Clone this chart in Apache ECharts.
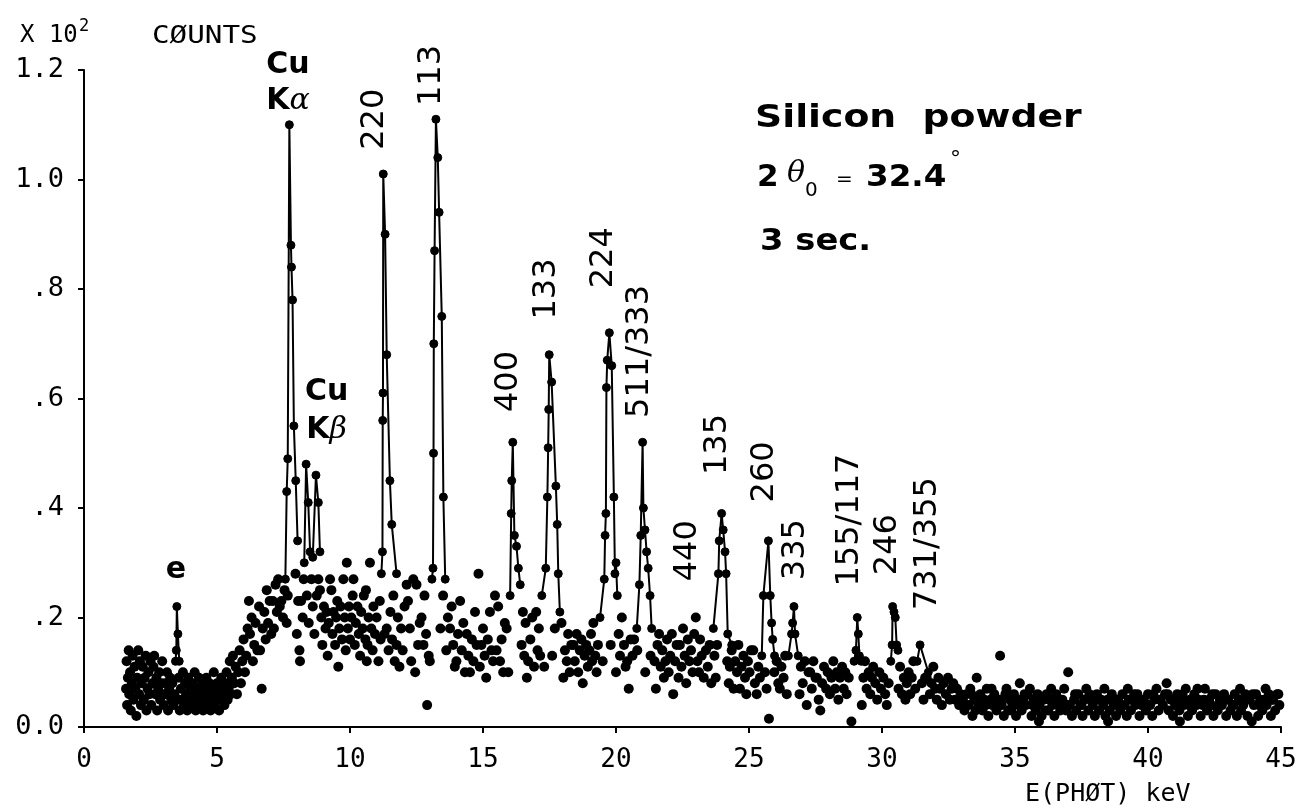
<!DOCTYPE html>
<html>
<head>
<meta charset="utf-8">
<script src="https://cdn.jsdelivr.net/npm/echarts@6/dist/echarts.min.js"></script>
<style>
html, body { margin: 0; background: #fff; }
#main { width: 1311px; height: 809px; }
</style>
</head>
<body>
<div id="main"></div>
<script>
// axis ticks
var xTicks = [0, 5, 10, 15, 20, 25, 30, 35, 40, 45];
var yTickLabels = ['0.0', '.2', '.4', '.6', '.8', '1.0', '1.2'];

// peaks (E keV, counts x100), joined by lines
var peakE = [[3.44, 0.12], [3.47, 0.14], [3.49, 0.22], [3.53, 0.17], [3.58, 0.12]];
var peakCuKa = [[7.57, 0.27], [7.62, 0.43], [7.66, 0.49], [7.72, 1.10], [7.78, 0.88], [7.80, 0.84], [7.84, 0.78], [7.89, 0.55], [7.96, 0.45], [8.03, 0.34]];
var peakCuKb = [[8.28, 0.30], [8.35, 0.48], [8.43, 0.41], [8.50, 0.32], [8.60, 0.31], [8.72, 0.46], [8.81, 0.41], [8.87, 0.32]];
var peak220 = [[11.18, 0.28], [11.22, 0.32], [11.23, 0.56], [11.24, 0.61], [11.25, 1.01], [11.32, 0.90], [11.38, 0.68], [11.50, 0.45], [11.57, 0.37], [11.75, 0.28]];
var peak113 = [[13.08, 0.27], [13.12, 0.29], [13.14, 0.50], [13.15, 0.70], [13.18, 0.87], [13.23, 1.11], [13.30, 1.04], [13.35, 0.94], [13.45, 0.75], [13.51, 0.42], [13.58, 0.27]];
var peak400 = [[16.02, 0.24], [16.06, 0.39], [16.08, 0.45], [16.12, 0.52], [16.18, 0.35], [16.26, 0.33], [16.33, 0.29], [16.40, 0.26]];
var peak133 = [[17.21, 0.24], [17.36, 0.29], [17.42, 0.42], [17.45, 0.51], [17.47, 0.58], [17.49, 0.68], [17.58, 0.63], [17.74, 0.44], [17.79, 0.37], [17.83, 0.28], [17.89, 0.21]];
var peak224 = [[19.40, 0.20], [19.56, 0.27], [19.59, 0.35], [19.62, 0.39], [19.64, 0.62], [19.67, 0.67], [19.75, 0.72], [19.84, 0.66], [19.92, 0.42], [19.96, 0.28], [20.00, 0.30], [20.05, 0.24]];
var peak511 = [[20.78, 0.18], [20.88, 0.26], [20.93, 0.35], [21.00, 0.52], [21.03, 0.40], [21.09, 0.36], [21.15, 0.32], [21.21, 0.29], [21.28, 0.24], [21.34, 0.18]];
var peak135 = [[23.66, 0.18], [23.85, 0.28], [23.88, 0.34], [23.97, 0.39], [24.03, 0.36], [24.10, 0.32], [24.14, 0.28], [24.20, 0.17], [24.35, 0.15]];
var peak260 = [[25.48, 0.13], [25.54, 0.24], [25.73, 0.34], [25.80, 0.24], [25.85, 0.19], [25.89, 0.16], [25.96, 0.13]];
var peak335 = [[26.48, 0.13], [26.60, 0.17], [26.64, 0.19], [26.69, 0.22], [26.73, 0.17], [26.85, 0.13]];
var peak155 = [[28.95, 0.12], [29.02, 0.14], [29.07, 0.20], [29.11, 0.17], [29.15, 0.13], [29.22, 0.12]];
var peak246 = [[30.33, 0.12], [30.38, 0.15], [30.40, 0.22], [30.45, 0.21], [30.50, 0.20], [30.55, 0.15], [30.60, 0.14]];
var peak731 = [[31.32, 0.12], [31.43, 0.15], [31.74, 0.10]];

// background counts, loose points
var bgLow = [[1.58, 0.07], [1.60, 0.12], [1.62, 0.04], [1.65, 0.09], [1.68, 0.14], [1.70, 0.06], [1.73, 0.10], [1.76, 0.03], [1.80, 0.08], [1.83, 0.13], [1.86, 0.05], [1.90, 0.11], [1.93, 0.07], [1.97, 0.02], [2.00, 0.09], [2.04, 0.14], [2.07, 0.06], [2.10, 0.12], [2.14, 0.04], [2.17, 0.08], [2.21, 0.11], [2.25, 0.05], [2.28, 0.09], [2.32, 0.13], [2.35, 0.03], [2.39, 0.07], [2.42, 0.10], [2.46, 0.06], [2.50, 0.12], [2.53, 0.04], [2.57, 0.08], [2.61, 0.11], [2.64, 0.13], [2.68, 0.06], [2.72, 0.09], [2.75, 0.03], [2.79, 0.07], [2.83, 0.10], [2.86, 0.05], [2.90, 0.08], [2.94, 0.12], [2.97, 0.06],
  [3.00, 0.04], [3.04, 0.08], [3.08, 0.06], [3.12, 0.10], [3.16, 0.03], [3.20, 0.07], [3.24, 0.09], [3.28, 0.05], [3.32, 0.08], [3.36, 0.04], [3.40, 0.06], [3.52, 0.05], [3.56, 0.09], [3.60, 0.03], [3.64, 0.07], [3.68, 0.05], [3.72, 0.10], [3.76, 0.04], [3.80, 0.08], [3.84, 0.06], [3.88, 0.03], [3.92, 0.09], [3.96, 0.05], [4.00, 0.07], [4.04, 0.04], [4.08, 0.08], [4.12, 0.06], [4.16, 0.10], [4.20, 0.03], [4.24, 0.07], [4.28, 0.05], [4.32, 0.09], [4.36, 0.04], [4.40, 0.06], [4.44, 0.08], [4.48, 0.03], [4.52, 0.07], [4.56, 0.05], [4.60, 0.09], [4.64, 0.04], [4.68, 0.06], [4.72, 0.08], [4.76, 0.03], [4.80, 0.07], [4.84, 0.05], [4.88, 0.10], [4.92, 0.04], [4.96, 0.06], [5.00, 0.08], [5.04, 0.05], [5.08, 0.03], [5.12, 0.07], [5.16, 0.09], [5.20, 0.05], [5.24, 0.06], [5.28, 0.04], [5.32, 0.08], [5.36, 0.10], [5.40, 0.05], [5.44, 0.07], [5.48, 0.12], [5.52, 0.06], [5.56, 0.09]];
var bgRise = [[5.60, 0.13], [5.65, 0.08], [5.70, 0.11], [5.75, 0.06], [5.80, 0.10], [5.85, 0.14], [5.90, 0.08], [5.95, 0.12], [6.00, 0.16], [6.05, 0.10], [6.10, 0.13], [6.15, 0.18], [6.20, 0.23], [6.24, 0.17], [6.30, 0.20], [6.35, 0.12], [6.40, 0.15], [6.45, 0.19], [6.52, 0.14], [6.58, 0.22], [6.62, 0.14], [6.68, 0.07], [6.72, 0.18], [6.78, 0.21], [6.83, 0.16], [6.87, 0.25], [6.92, 0.19], [6.98, 0.23], [7.04, 0.17], [7.10, 0.23], [7.14, 0.18], [7.20, 0.26], [7.25, 0.21], [7.30, 0.27], [7.36, 0.22], [7.42, 0.23], [7.48, 0.20], [7.54, 0.25]];
var bgHump = [[7.62, 0.19], [7.66, 0.24], [7.95, 0.28], [8.00, 0.17], [8.05, 0.23], [8.10, 0.14], [8.12, 0.12], [8.16, 0.23], [8.22, 0.20], [8.26, 0.27], [8.38, 0.24], [8.45, 0.19], [8.55, 0.27], [8.60, 0.22], [8.66, 0.17], [8.75, 0.24], [8.81, 0.27], [8.87, 0.25], [8.92, 0.20], [8.96, 0.15], [9.02, 0.22], [9.08, 0.18], [9.12, 0.21], [9.16, 0.13], [9.20, 0.19], [9.25, 0.27], [9.30, 0.25], [9.34, 0.17], [9.38, 0.21], [9.44, 0.15], [9.48, 0.20], [9.52, 0.23], [9.56, 0.11], [9.60, 0.18], [9.65, 0.22], [9.70, 0.16], [9.75, 0.27], [9.80, 0.20], [9.84, 0.14], [9.88, 0.30], [9.92, 0.18], [9.96, 0.22], [10.00, 0.16], [10.05, 0.20], [10.10, 0.24], [10.13, 0.27], [10.18, 0.15], [10.22, 0.19], [10.28, 0.22], [10.33, 0.17], [10.38, 0.13], [10.42, 0.21], [10.48, 0.18], [10.52, 0.24], [10.58, 0.16], [10.60, 0.25], [10.63, 0.12], [10.66, 0.15], [10.70, 0.20], [10.75, 0.30], [10.80, 0.18], [10.85, 0.14], [10.88, 0.22], [10.94, 0.17], [11.00, 0.20], [11.07, 0.12], [11.12, 0.23], [11.15, 0.16]];
var bgMid = [[11.30, 0.17], [11.38, 0.18], [11.45, 0.14], [11.52, 0.21], [11.58, 0.16], [11.63, 0.24], [11.68, 0.12], [11.75, 0.15], [11.80, 0.20], [11.86, 0.11], [11.92, 0.18], [11.98, 0.14], [12.05, 0.22], [12.13, 0.26], [12.18, 0.23], [12.25, 0.18], [12.30, 0.12], [12.38, 0.27], [12.45, 0.10], [12.50, 0.26], [12.56, 0.15], [12.62, 0.19], [12.69, 0.20], [12.76, 0.15], [12.80, 0.24], [12.86, 0.17], [12.90, 0.04], [12.96, 0.13], [13.00, 0.12], [13.40, 0.18], [13.50, 0.24], [13.62, 0.14], [13.68, 0.20], [13.76, 0.18], [13.82, 0.22], [13.88, 0.15], [13.94, 0.11], [14.00, 0.12], [14.06, 0.17], [14.14, 0.23], [14.20, 0.14], [14.26, 0.19], [14.32, 0.10], [14.39, 0.17], [14.45, 0.13], [14.51, 0.10], [14.58, 0.16], [14.64, 0.12], [14.70, 0.21], [14.76, 0.15], [14.83, 0.28], [14.88, 0.11], [14.94, 0.15], [15.00, 0.18], [15.06, 0.13], [15.12, 0.09], [15.18, 0.16], [15.26, 0.21], [15.32, 0.14], [15.38, 0.12], [15.45, 0.24], [15.51, 0.14], [15.57, 0.22], [15.64, 0.12], [15.70, 0.16], [15.76, 0.10], [15.82, 0.19], [15.89, 0.18], [15.95, 0.10],
  [16.45, 0.15], [16.50, 0.21], [16.55, 0.13], [16.60, 0.19], [16.65, 0.09], [16.70, 0.12], [16.78, 0.16], [16.85, 0.20], [16.92, 0.11], [17.00, 0.21], [17.05, 0.14], [17.10, 0.18], [17.15, 0.13], [17.30, 0.11], [17.60, 0.13], [17.70, 0.18], [17.95, 0.19], [18.02, 0.09], [18.08, 0.14], [18.15, 0.12], [18.20, 0.17], [18.26, 0.10], [18.32, 0.15], [18.40, 0.15], [18.45, 0.12], [18.52, 0.17], [18.58, 0.10], [18.64, 0.14], [18.70, 0.16], [18.75, 0.08], [18.82, 0.13], [18.88, 0.15], [18.94, 0.11], [19.00, 0.14], [19.06, 0.17], [19.10, 0.12], [19.15, 0.19], [19.22, 0.13], [19.27, 0.10], [19.32, 0.15], [19.50, 0.12], [19.80, 0.15], [20.00, 0.10], [20.10, 0.17], [20.15, 0.13], [20.22, 0.20], [20.30, 0.15], [20.36, 0.11], [20.42, 0.12], [20.48, 0.07], [20.55, 0.16], [20.62, 0.13], [20.68, 0.16], [20.80, 0.14], [21.10, 0.10], [21.30, 0.13], [21.45, 0.12], [21.50, 0.07], [21.56, 0.15], [21.62, 0.17], [21.68, 0.11], [21.74, 0.14], [21.80, 0.09], [21.86, 0.12], [21.92, 0.16], [21.98, 0.10], [22.04, 0.13], [22.10, 0.17], [22.15, 0.06], [22.22, 0.12], [22.28, 0.15], [22.35, 0.09], [22.40, 0.15], [22.46, 0.11], [22.52, 0.18], [22.58, 0.13], [22.64, 0.08], [22.70, 0.16], [22.76, 0.12], [22.82, 0.14], [22.88, 0.10], [22.94, 0.17], [23.00, 0.20], [23.06, 0.12], [23.12, 0.10], [23.16, 0.16], [23.22, 0.13], [23.30, 0.09], [23.38, 0.14], [23.45, 0.11], [23.52, 0.15], [23.58, 0.08]];
var bgTail = [[23.70, 0.13], [23.75, 0.09], [23.80, 0.15], [24.18, 0.12], [24.24, 0.08], [24.28, 0.11], [24.35, 0.14], [24.42, 0.07], [24.48, 0.12], [24.55, 0.10], [24.60, 0.15], [24.66, 0.07], [24.72, 0.11], [24.79, 0.13], [24.85, 0.09], [24.90, 0.06], [24.96, 0.12], [25.02, 0.10], [25.08, 0.14], [25.16, 0.14], [25.22, 0.08], [25.29, 0.06], [25.35, 0.11], [25.41, 0.09], [25.60, 0.10], [25.66, 0.07], [25.75, 0.015], [25.95, 0.10], [26.04, 0.12], [26.10, 0.08], [26.16, 0.07], [26.22, 0.11], [26.30, 0.09], [26.36, 0.13], [26.42, 0.06], [26.90, 0.06], [26.95, 0.11], [27.02, 0.08], [27.10, 0.12], [27.17, 0.04], [27.24, 0.10], [27.30, 0.10], [27.36, 0.07], [27.42, 0.12], [27.50, 0.09], [27.55, 0.09], [27.62, 0.05], [27.68, 0.03], [27.75, 0.08], [27.82, 0.11], [27.90, 0.07], [27.96, 0.10], [28.04, 0.06], [28.10, 0.09], [28.17, 0.12], [28.24, 0.07], [28.30, 0.10], [28.36, 0.05], [28.42, 0.09], [28.50, 0.11], [28.56, 0.07], [28.62, 0.10], [28.67, 0.06], [28.75, 0.09], [28.85, 0.01], [29.24, 0.04], [29.30, 0.09], [29.36, 0.12], [29.42, 0.07], [29.50, 0.10], [29.56, 0.06], [29.62, 0.09], [29.67, 0.11], [29.75, 0.08], [29.82, 0.05], [29.90, 0.10], [29.96, 0.07], [30.05, 0.09], [30.12, 0.06], [30.18, 0.04], [30.25, 0.08], [30.62, 0.07], [30.68, 0.11], [30.75, 0.06], [30.82, 0.09], [30.88, 0.05], [30.93, 0.08], [31.00, 0.10], [31.06, 0.06], [31.12, 0.09], [31.18, 0.12], [31.25, 0.07], [31.50, 0.08], [31.56, 0.05], [31.62, 0.09], [31.68, 0.09], [31.80, 0.06], [31.86, 0.08], [31.93, 0.11], [32.00, 0.07], [32.06, 0.05], [32.12, 0.09], [32.18, 0.07], [32.25, 0.04], [32.32, 0.08], [32.40, 0.06], [32.48, 0.09], [32.55, 0.05], [32.62, 0.07], [32.68, 0.08], [32.75, 0.05], [32.82, 0.07], [32.90, 0.04], [32.96, 0.06]];
var bgHigh = [[33.04, 0.05], [33.10, 0.03], [33.18, 0.06], [33.25, 0.04], [33.32, 0.07], [33.40, 0.02], [33.47, 0.05], [33.56, 0.09], [33.62, 0.04], [33.70, 0.06], [33.78, 0.03], [33.85, 0.05], [33.94, 0.07], [34.00, 0.02], [34.08, 0.05], [34.15, 0.04], [34.22, 0.06], [34.30, 0.03], [34.37, 0.05], [34.44, 0.13], [34.50, 0.04], [34.58, 0.02], [34.64, 0.06], [34.68, 0.07], [34.75, 0.03], [34.82, 0.05], [34.90, 0.04], [34.96, 0.06], [35.04, 0.02], [35.10, 0.05], [35.18, 0.08], [35.25, 0.03], [35.32, 0.05], [35.40, 0.04], [35.48, 0.06], [35.56, 0.07], [35.62, 0.02], [35.70, 0.05], [35.78, 0.03], [35.85, 0.06], [35.90, 0.01], [35.92, 0.04], [36.00, 0.02], [36.08, 0.05], [36.19, 0.06], [36.25, 0.03], [36.32, 0.05], [36.40, 0.04], [36.48, 0.02], [36.55, 0.06], [36.62, 0.04], [36.70, 0.03], [36.78, 0.05], [36.85, 0.07], [36.92, 0.03], [37.00, 0.10], [37.06, 0.04], [37.14, 0.02], [37.22, 0.05], [37.30, 0.03], [37.38, 0.06], [37.46, 0.04], [37.54, 0.02], [37.60, 0.05], [37.68, 0.07], [37.76, 0.03], [37.84, 0.05], [37.92, 0.04], [38.00, 0.02], [38.08, 0.06], [38.16, 0.03], [38.24, 0.05], [38.32, 0.04], [38.40, 0.02], [38.48, 0.05], [38.50, 0.01], [38.56, 0.03], [38.64, 0.06], [38.72, 0.04], [38.80, 0.02], [38.88, 0.05], [38.96, 0.03], [39.04, 0.06], [39.12, 0.04], [39.20, 0.02], [39.28, 0.05], [39.36, 0.03], [39.44, 0.05], [39.52, 0.04], [39.60, 0.06], [39.68, 0.02], [39.76, 0.04], [39.84, 0.05], [39.92, 0.03], [40.00, 0.06], [40.08, 0.04], [40.16, 0.02], [40.24, 0.05], [40.32, 0.07], [40.40, 0.03], [40.48, 0.05], [40.56, 0.04], [40.64, 0.06], [40.70, 0.08], [40.78, 0.03], [40.86, 0.05], [40.94, 0.02], [41.02, 0.04], [41.10, 0.06], [41.18, 0.03], [41.20, 0.01], [41.26, 0.05], [41.34, 0.04], [41.42, 0.07], [41.50, 0.02], [41.58, 0.05], [41.66, 0.03], [41.74, 0.06], [41.82, 0.04], [41.90, 0.05], [41.98, 0.02], [42.06, 0.04], [42.14, 0.07], [42.22, 0.03], [42.30, 0.05], [42.38, 0.04], [42.46, 0.02], [42.54, 0.06], [42.62, 0.03], [42.70, 0.05], [42.78, 0.04], [42.86, 0.06], [42.94, 0.02], [43.02, 0.05], [43.10, 0.03], [43.18, 0.04], [43.26, 0.06], [43.34, 0.02], [43.42, 0.05], [43.50, 0.03], [43.58, 0.04], [43.66, 0.06], [43.74, 0.02], [43.82, 0.05], [43.90, 0.01], [43.98, 0.04], [44.06, 0.06], [44.14, 0.02], [44.22, 0.05], [44.30, 0.03], [44.38, 0.05], [44.46, 0.04], [44.54, 0.06], [44.62, 0.02], [44.70, 0.05], [44.78, 0.03], [44.86, 0.06], [44.94, 0.04]];
var bgHighFill = [[33.14, 0.04], [33.36, 0.06], [33.52, 0.03], [33.74, 0.05], [33.90, 0.04], [34.12, 0.07], [34.34, 0.04], [34.54, 0.05], [34.86, 0.03], [35.14, 0.04], [35.36, 0.06], [35.66, 0.04], [35.96, 0.05], [36.14, 0.03], [36.36, 0.07], [36.66, 0.05], [36.96, 0.04], [37.26, 0.06], [37.50, 0.04], [37.80, 0.06], [38.12, 0.05], [38.36, 0.07], [38.68, 0.05], [38.92, 0.04], [39.24, 0.07], [39.48, 0.06], [39.72, 0.05], [39.96, 0.04], [40.20, 0.06], [40.44, 0.05], [40.74, 0.06], [40.98, 0.05], [41.30, 0.06], [41.54, 0.04], [41.86, 0.07], [42.10, 0.05], [42.42, 0.06], [42.66, 0.04], [42.90, 0.05], [43.22, 0.04], [43.46, 0.07], [43.70, 0.05], [43.94, 0.06], [44.18, 0.04], [44.42, 0.07], [44.66, 0.05], [44.90, 0.06]];

var myChart = echarts.init(document.getElementById('main'));

var plotFont = '"DejaVu Sans Mono", monospace';

function peakSeries(data) {
    return {
        type: 'line',
        data: data,
        symbol: 'circle',
        symbolSize: 8,
        clip: false,
        lineStyle: { color: '#000', width: 2 },
        itemStyle: { color: '#000', borderColor: '#000', borderWidth: 1 },
        z: 3
    };
}

var option = {
    animation: false,
    backgroundColor: '#fff',
    grid: {
        left: 84,
        right: 30,
        top: 70,
        bottom: 82
    },
    xAxis: {
        type: 'value',
        min: 0,
        max: 45,
        interval: 5,
        axisLine: { lineStyle: { color: '#000', width: 2 } },
        axisTick: { length: 6, lineStyle: { color: '#000', width: 2 } },
        axisLabel: {
            color: '#000',
            fontFamily: plotFont,
            fontSize: 26,
            margin: 20,
            formatter: function (v) { return xTicks.indexOf(v) >= 0 ? String(v) : ''; }
        },
        splitLine: { show: false }
    },
    yAxis: {
        type: 'value',
        min: 0,
        max: 1.2,
        interval: 0.2,
        axisLine: { show: true, lineStyle: { color: '#000', width: 2 } },
        axisTick: { show: true, length: 6, lineStyle: { color: '#000', width: 2 } },
        axisLabel: {
            color: '#000',
            fontFamily: plotFont,
            fontSize: 27,
            margin: 20,
            formatter: function (v, i) { return yTickLabels[i]; }
        },
        splitLine: { show: false }
    },
    series: [
        {
            type: 'scatter',
            data: [].concat(bgLow, bgRise, bgHump, bgMid, bgTail, bgHigh, bgHighFill),
            symbol: 'circle',
            symbolSize: 10,
            itemStyle: { color: '#000', opacity: 1 },
            z: 2
        },
        peakSeries(peakE),
        peakSeries(peakCuKa),
        peakSeries(peakCuKb),
        peakSeries(peak220),
        peakSeries(peak113),
        peakSeries(peak400),
        peakSeries(peak133),
        peakSeries(peak224),
        peakSeries(peak511),
        peakSeries(peak135),
        peakSeries(peak260),
        peakSeries(peak335),
        peakSeries(peak155),
        peakSeries(peak246),
        peakSeries(peak731)
    ]
};
myChart.setOption(option);

// peak annotations, anchored in data coordinates
var vertLabels = [
    ['220', 10.94, 1.11], ['113', 13.08, 1.19], ['400', 15.98, 0.631], ['133', 17.41, 0.80],
    ['224', 19.55, 0.857], ['511/333', 20.9, 0.686], ['440', 22.7, 0.322], ['135', 23.83, 0.516],
    ['260', 25.6, 0.466], ['335', 26.77, 0.324], ['155/117', 28.8, 0.378], ['246', 30.23, 0.333],
    ['731/355', 31.73, 0.335]
];
var graphics = [];
vertLabels.forEach(function (l) {
    var p = myChart.convertToPixel({ gridIndex: 0 }, [l[1], l[2]]);
    graphics.push({
        type: 'text', x: p[0], y: p[1], rotation: Math.PI / 2,
        style: { text: l[0], fill: '#000', font: '32px "DejaVu Sans"', align: 'center', verticalAlign: 'middle' }
    });
});
function boldAt(txt, e, v, size) {
    var p = myChart.convertToPixel({ gridIndex: 0 }, [e, v]);
    return {
        type: 'text', x: p[0], y: p[1],
        style: {
            text: txt, fill: '#000', align: 'center', verticalAlign: 'middle',
            font: 'bold ' + size + 'px "DejaVu Sans"',
            rich: {
                g: { fontFamily: '"DejaVu Serif"', fontStyle: 'italic', fontWeight: 'normal', fontSize: size }
            }
        }
    };
}
graphics.push(boldAt('Cu', 7.67, 1.208, 30));
graphics.push(boldAt('K{g|α}', 7.67, 1.143, 30));
graphics.push(boldAt('Cu', 9.12, 0.611, 30));
graphics.push(boldAt('K{g|β}', 9.12, 0.543, 30));
graphics.push(boldAt('e', 3.46, 0.287, 30));

function plainText(txt, x, y, font, sx) {
    return {
        type: 'text', x: x, y: y, scaleX: sx || 1,
        style: { text: txt, fill: '#000', font: font, align: 'left', verticalAlign: 'middle' }
    };
}
// axis titles and legend text
graphics.push(
    plainText('X 10', 20, 36, '24px "DejaVu Sans Mono"'),
    plainText('2', 79, 27, '17px "DejaVu Sans Mono"'),
    plainText('CØUNTS', 152, 36, '25px "DejaVu Sans Mono"', 1.17),
    plainText('E(PHØT) keV', 1025, 794, '25px "DejaVu Sans Mono"'),
    plainText('Silicon  powder', 755, 119, 'bold 32px "DejaVu Sans"', 1.18),
    plainText('2', 757, 178, 'bold 31px "DejaVu Sans"'),
    plainText('θ', 787, 174, 'italic 30px "DejaVu Serif"'),
    plainText('0', 805, 191, '20px "DejaVu Sans"'),
    plainText('=', 836, 180, '20px "DejaVu Sans"'),
    plainText('32.4', 866, 178, 'bold 31px "DejaVu Sans"', 1.05),
    plainText('°', 950, 160, '22px "DejaVu Sans"'),
    plainText('3 sec.', 760, 242, 'bold 31px "DejaVu Sans"', 1.09)
);
myChart.setOption({ graphic: graphics });
</script>
</body>
</html>
